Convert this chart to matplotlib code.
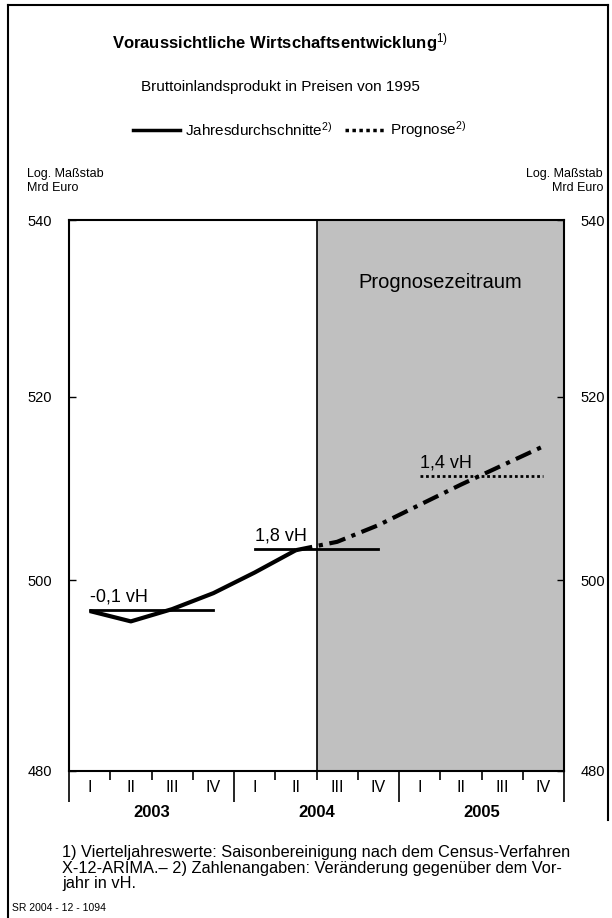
import numpy as np
import matplotlib.pyplot as plt
from matplotlib.lines import Line2D

plt.rcParams['font.family'] = ['Liberation Sans', 'DejaVu Sans']
plt.rcParams['mathtext.fontset'] = 'custom'
plt.rcParams['mathtext.rm'] = 'Liberation Sans'
plt.rcParams['mathtext.it'] = 'Liberation Sans:italic'
plt.rcParams['mathtext.bf'] = 'Liberation Sans:bold'

# data (Mrd Euro, quarterly, log scale)
quarters = ['I', 'II', 'III', 'IV'] * 3
years = ['2003', '2004', '2005']
actual = [496.7, 495.6, 496.9, 498.6, 500.8, 503.2]          # 2003 I .. 2004 II
forecast = [503.2, 504.1, 505.9, 508.1, 510.3, 512.4, 514.5]  # 2004 II .. 2005 IV
annual = [496.8, 503.3, 511.2]
annual_labels = ['-0,1 vH', '1,8 vH', '1,4 vH']
yticks = [480, 500, 520, 540]

W, H = 612, 918
fig = plt.figure(figsize=(W / 100, H / 100), dpi=100)

def fx(x):
    return x / W

def fy(y):
    return 1 - y / H

ax = fig.add_axes([fx(69), fy(771), fx(564) - fx(69), fy(220) - fy(771)])
ax.set_yscale('log')
ax.set_ylim(480, 540)
ax.set_xlim(0, 12)
ax.set_yticks(yticks)
ax.set_yticklabels([str(v) for v in yticks])
ax.yaxis.set_minor_locator(plt.NullLocator())
ax.tick_params(axis='y', which='major', direction='in', length=5, width=1,
               labelsize=10.5, pad=12, left=True, right=True,
               labelleft=True, labelright=True)

# x axis: year separators (major), quarter separators (minor)
ax.set_xticks([0, 4, 8, 12])
ax.set_xticks([1, 2, 3, 5, 6, 7, 9, 10, 11], minor=True)
ax.tick_params(axis='x', which='major', direction='out', length=22, width=1.2,
               labelbottom=False)
ax.tick_params(axis='x', which='minor', direction='out', length=6.5, width=1.2,
               labelbottom=False)
for s in ax.spines.values():
    s.set_linewidth(1.5)

xq = np.arange(12) + 0.5
for i, q in enumerate(quarters):
    ax.text(xq[i], -0.016, q, transform=ax.get_xaxis_transform(),
            ha='center', va='top', fontsize=11.5)
for i, yr in enumerate(years):
    ax.text(4 * i + 2, -0.062, yr, transform=ax.get_xaxis_transform(),
            ha='center', va='top', fontsize=12, fontweight='bold')

# forecast period
ax.axvspan(6, 12, color='#c0c0c0', zorder=0, lw=0)
ax.axvline(6, color='black', lw=1.2, zorder=1)
ax.text(9, 532.8, 'Prognosezeitraum', ha='center', va='center', fontsize=14.5)

# quarterly lines
ax.plot(xq[:6], actual, color='black', lw=3, solid_capstyle='butt', zorder=4)
ax.plot(xq[5:], forecast, color='black', lw=3, ls=(0, (4, 1.6, 1, 1.6)),
        zorder=4)

# annual averages
for i, v in enumerate(annual):
    x0, x1 = 4 * i + 0.5, 4 * i + 3.5
    ls = '-' if i < 2 else (0, (1, 1))
    ax.plot([x0, x1], [v, v], color='black', lw=2, ls=ls, zorder=3)
    ax.text(x0, v * 1.0010, annual_labels[i], ha='left', va='bottom', fontsize=13)

# header texts
fig.text(fx(280), fy(43), r'Voraussichtliche Wirtschaftsentwicklung$^{\mathrm{1)}}$',
         ha='center', va='center', fontsize=12, fontweight='bold')
fig.text(fx(280), fy(87), 'Bruttoinlandsprodukt in Preisen von 1995',
         ha='center', va='center', fontsize=11)

# legend
fig.add_artist(Line2D([fx(133), fx(180)], [fy(130), fy(130)], color='black', lw=2.5))
fig.text(fx(185), fy(130), r'Jahresdurchschnitte$^{\mathrm{2)}}$', ha='left',
         va='center', fontsize=11)
fig.add_artist(Line2D([fx(345), fx(385)], [fy(130), fy(130)], color='black', lw=2.5,
                      ls=(0, (1, 1))))
fig.text(fx(390), fy(130), r'Prognose$^{\mathrm{2)}}$', ha='left', va='center',
         fontsize=11)

fig.text(fx(27), fy(181), 'Log. Maßstab\nMrd Euro', ha='left', va='center',
         fontsize=9, linespacing=1.2)
fig.text(fx(603), fy(181), 'Log. Maßstab\nMrd Euro', ha='right', va='center',
         fontsize=9, linespacing=1.2)

# footnotes
fig.text(fx(62), fy(845),
         '1) Vierteljahreswerte: Saisonbereinigung nach dem Census-Verfahren\n'
         'X-12-ARIMA.– 2) Zahlenangaben: Veränderung gegenüber dem Vor-\n'
         'jahr in vH.', ha='left', va='top', fontsize=11.8, linespacing=1.05)
fig.text(fx(12), fy(908), 'SR 2004 - 12 - 1094', ha='left', va='center', fontsize=7.5)

# outer frame
fig.add_artist(Line2D([fx(8), fx(8)], [0, fy(5)], color='black', lw=1.5))
fig.add_artist(Line2D([fx(8), fx(608)], [fy(5), fy(5)], color='black', lw=1.5))
fig.add_artist(Line2D([fx(608), fx(608)], [fy(5), fy(820)], color='black', lw=1.5))

fig.savefig('out.png', dpi=100)
